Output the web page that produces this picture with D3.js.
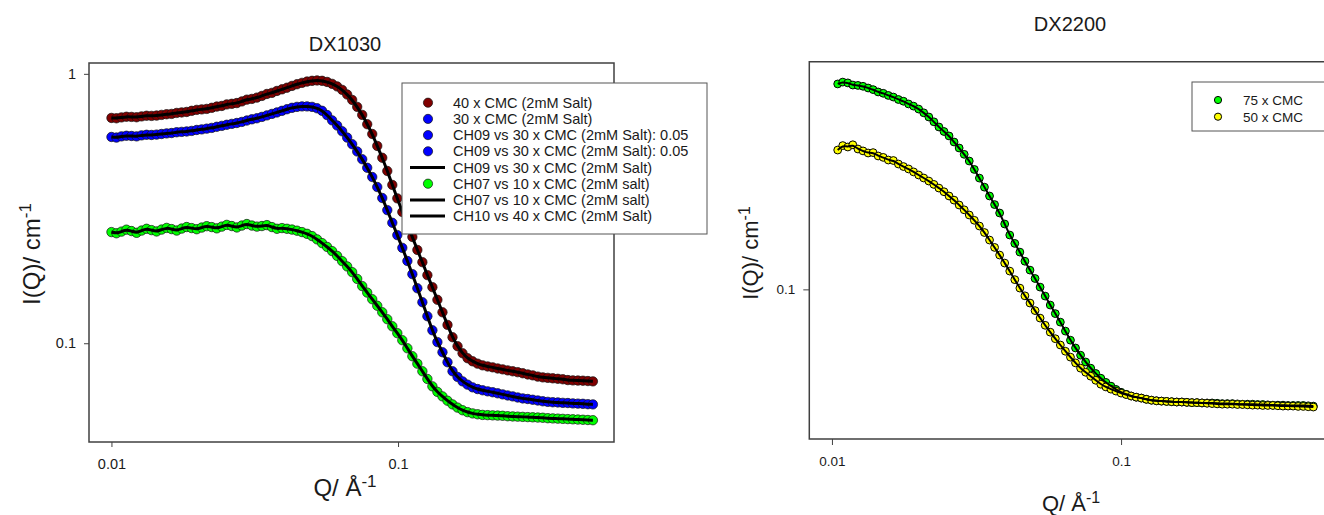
<!DOCTYPE html>
<html>
<head>
<meta charset="utf-8">
<script src="https://cdn.jsdelivr.net/npm/d3@7"></script>
<style>
  body { margin: 0; background: #fff; }
  svg { display: block; font-family: Arial, "Liberation Sans", sans-serif; }
</style>
</head>
<body>
<svg id="chart" width="1324" height="515"></svg>
<script>
// DX1030 panel: Q grid and intensities
const qLeft = [0.01000, 0.01041, 0.01084, 0.01128, 0.01175, 0.01224, 0.01274, 0.01326, 0.01380, 0.01437,
  0.01496, 0.01558, 0.01622, 0.01689, 0.01758, 0.01830, 0.01905, 0.01984, 0.02065, 0.02150,
  0.02239, 0.02331, 0.02427, 0.02526, 0.02630, 0.02738, 0.02851, 0.02968, 0.03090, 0.03217,
  0.03350, 0.03487, 0.03631, 0.03780, 0.03936, 0.04097, 0.04266, 0.04441, 0.04624, 0.04814,
  0.05012, 0.05218, 0.05433, 0.05656, 0.05888, 0.06131, 0.06383, 0.06645, 0.06918, 0.07203,
  0.07499, 0.07807, 0.08128, 0.08463, 0.08810, 0.09173, 0.09550, 0.09943, 0.1035, 0.1078,
  0.1122, 0.1168, 0.1216, 0.1266, 0.1318, 0.1372, 0.1429, 0.1488, 0.1549, 0.1613,
  0.1679, 0.1748, 0.1820, 0.1895, 0.1972, 0.2054, 0.2138, 0.2226, 0.2317, 0.2413,
  0.2512, 0.2615, 0.2723, 0.2835, 0.2951, 0.3073, 0.3199, 0.3331, 0.3467, 0.3610,
  0.3758, 0.3913, 0.4074, 0.4242, 0.4416, 0.4597, 0.4786];

const i40cmc = [0.686, 0.684, 0.689, 0.693, 0.692, 0.690, 0.695, 0.699, 0.698, 0.700,
  0.704, 0.708, 0.710, 0.716, 0.719, 0.722, 0.729, 0.735, 0.738, 0.741,
  0.748, 0.756, 0.760, 0.770, 0.774, 0.779, 0.790, 0.802, 0.807, 0.816,
  0.828, 0.842, 0.850, 0.864, 0.876, 0.888, 0.902, 0.915, 0.926, 0.936,
  0.942, 0.945, 0.942, 0.933, 0.918, 0.898, 0.872, 0.838, 0.800, 0.754,
  0.704, 0.650, 0.598, 0.540, 0.488, 0.436, 0.387, 0.345, 0.307, 0.275,
  0.248, 0.222, 0.200, 0.179, 0.1615, 0.145, 0.1303, 0.117, 0.1053, 0.0975,
  0.0918, 0.0880, 0.0857, 0.0840, 0.0828, 0.0820, 0.0814, 0.0806, 0.0800, 0.0793,
  0.0787, 0.0781, 0.0774, 0.0766, 0.0760, 0.0752, 0.0747, 0.0744, 0.0741, 0.0738,
  0.0735, 0.0730, 0.0728, 0.0727, 0.0726, 0.0724, 0.0722];

const i30cmc = [0.583, 0.580, 0.586, 0.589, 0.588, 0.586, 0.591, 0.594, 0.593, 0.595,
  0.598, 0.601, 0.603, 0.607, 0.609, 0.611, 0.614, 0.619, 0.622, 0.626,
  0.630, 0.636, 0.641, 0.647, 0.652, 0.657, 0.663, 0.671, 0.678, 0.684,
  0.692, 0.701, 0.710, 0.719, 0.729, 0.739, 0.748, 0.754, 0.757, 0.757,
  0.754, 0.745, 0.729, 0.703, 0.672, 0.643, 0.612, 0.580, 0.548, 0.515,
  0.482, 0.448, 0.414, 0.380, 0.346, 0.312, 0.280, 0.252, 0.226, 0.202,
  0.1805, 0.160, 0.142, 0.126, 0.1117, 0.101, 0.0926, 0.0850, 0.0787, 0.0750,
  0.0722, 0.0702, 0.0686, 0.0676, 0.0669, 0.0663, 0.0658, 0.0652, 0.0646, 0.0640,
  0.0635, 0.0629, 0.0624, 0.0621, 0.0617, 0.0613, 0.0609, 0.0606, 0.0604, 0.0603,
  0.0601, 0.0600, 0.0598, 0.0597, 0.0596, 0.0594, 0.0593];

const i10cmc = [0.2586, 0.2560, 0.2597, 0.2640, 0.2609, 0.2570, 0.2620, 0.2660, 0.2630, 0.2600,
  0.2642, 0.2680, 0.2653, 0.2620, 0.2665, 0.2700, 0.2676, 0.2650, 0.2688, 0.2720,
  0.2699, 0.2670, 0.2710, 0.2750, 0.2723, 0.2690, 0.2734, 0.2770, 0.2734, 0.2710,
  0.2723, 0.2745, 0.2699, 0.2660, 0.2676, 0.2660, 0.2642, 0.2617, 0.2586, 0.2548,
  0.2499, 0.2430, 0.2353, 0.2278, 0.2198, 0.2110, 0.2017, 0.1928, 0.1836, 0.1733,
  0.1630, 0.1542, 0.1457, 0.1378, 0.1303, 0.1228, 0.1156, 0.1090, 0.1026, 0.0958,
  0.0895, 0.0840, 0.0787, 0.0737, 0.0692, 0.0660, 0.0635, 0.0612, 0.0593, 0.0577,
  0.0564, 0.0555, 0.0549, 0.0545, 0.0542, 0.0541, 0.0540, 0.0539, 0.0538, 0.0536,
  0.0535, 0.0534, 0.0533, 0.0532, 0.0531, 0.0530, 0.0529, 0.0527, 0.0526, 0.0525,
  0.0524, 0.0523, 0.0522, 0.0521, 0.0520, 0.0519, 0.0518];

const legendLeft = ["40 x CMC (2mM Salt)", "30 x CMC (2mM Salt)", "CH09 vs 30 x CMC (2mM Salt): 0.05",
  "CH09 vs 30 x CMC (2mM Salt): 0.05", "CH09 vs 30 x CMC (2mM Salt)", "CH07 vs 10 x CMC (2mM salt)",
  "CH07 vs 10 x CMC (2mM salt)", "CH10 vs 40 x CMC (2mM Salt)"];

// DX2200 panel
const qRight = [0.01047, 0.01090, 0.01135, 0.01181, 0.01230, 0.01281, 0.01334, 0.01388, 0.01445, 0.01505,
  0.01567, 0.01631, 0.01698, 0.01768, 0.01841, 0.01916, 0.01995, 0.02077, 0.02163, 0.02252,
  0.02344, 0.02441, 0.02541, 0.02645, 0.02754, 0.02867, 0.02985, 0.03108, 0.03236, 0.03369,
  0.03508, 0.03652, 0.03802, 0.03958, 0.04121, 0.04290, 0.04467, 0.04650, 0.04842, 0.05041,
  0.05248, 0.05464, 0.05689, 0.05923, 0.06166, 0.06420, 0.06683, 0.06958, 0.07244, 0.07542,
  0.07852, 0.08175, 0.08511, 0.08861, 0.09226, 0.09605, 0.1000, 0.1041, 0.1084, 0.1128,
  0.1175, 0.1223, 0.1274, 0.1326, 0.1380, 0.1437, 0.1496, 0.1558, 0.1622, 0.1689,
  0.1758, 0.1830, 0.1905, 0.1984, 0.2065, 0.2150, 0.2239, 0.2331, 0.2427, 0.2526,
  0.2630, 0.2738, 0.2851, 0.2968, 0.3090, 0.3217, 0.3350, 0.3487, 0.3631, 0.3780,
  0.3936, 0.4097, 0.4266, 0.4441, 0.4624];

const i75cmc = [0.5105, 0.5180, 0.5147, 0.5060, 0.5045, 0.5010, 0.4943, 0.4880, 0.4790, 0.4740,
  0.4660, 0.4600, 0.4512, 0.4450, 0.4355, 0.4280, 0.4182, 0.4060, 0.3927, 0.3780,
  0.3628, 0.3500, 0.3378, 0.3220, 0.3070, 0.2920, 0.2769, 0.2590, 0.2418, 0.2250,
  0.2098, 0.1960, 0.1833, 0.1680, 0.1539, 0.1440, 0.1344, 0.1250, 0.1165, 0.1090,
  0.1018, 0.0948, 0.0883, 0.0825, 0.0771, 0.0718, 0.0668, 0.0628, 0.0593, 0.0562,
  0.0535, 0.0513, 0.0494, 0.0478, 0.0464, 0.0452, 0.0442, 0.0435, 0.0429, 0.0425,
  0.0422, 0.0418, 0.0415, 0.0413, 0.0412, 0.0411, 0.0410, 0.0409, 0.0409, 0.0408,
  0.0407, 0.0407, 0.0406, 0.0406, 0.0406, 0.0405, 0.0404, 0.0404, 0.0404, 0.0403,
  0.0402, 0.0402, 0.0402, 0.0401, 0.0401, 0.0400, 0.0399, 0.0399, 0.0399, 0.0398,
  0.0398, 0.0398, 0.0398, 0.0397, 0.0396];

const i50cmc = [0.3021, 0.3130, 0.3095, 0.3150, 0.3046, 0.3000, 0.2951, 0.2960, 0.2882, 0.2850,
  0.2791, 0.2780, 0.2704, 0.2650, 0.2600, 0.2540, 0.2478, 0.2420, 0.2362, 0.2300,
  0.2234, 0.2170, 0.2098, 0.2030, 0.1953, 0.1880, 0.1804, 0.1730, 0.1653, 0.1570,
  0.1479, 0.1395, 0.1313, 0.1232, 0.1156, 0.1080, 0.1010, 0.0950, 0.0897, 0.0845,
  0.0796, 0.0752, 0.0712, 0.0676, 0.0643, 0.0612, 0.0584, 0.0558, 0.0535, 0.0518,
  0.0502, 0.0486, 0.0471, 0.0461, 0.0453, 0.0446, 0.0439, 0.0434, 0.0429, 0.0425,
  0.0422, 0.0418, 0.0415, 0.0413, 0.0412, 0.0411, 0.0410, 0.0409, 0.0409, 0.0408,
  0.0407, 0.0407, 0.0406, 0.0405, 0.0404, 0.0403, 0.0402, 0.0402, 0.0402, 0.0401,
  0.0401, 0.0400, 0.0399, 0.0399, 0.0398, 0.0398, 0.0398, 0.0397, 0.0396, 0.0396,
  0.0396, 0.0395, 0.0395, 0.0394, 0.0393];

const legendRight = ["75 x CMC", "50 x CMC"];

const svg = d3.select("#chart");
const ink = "#1a1a1a";
const frame = "#404040";

function zip(q, v) { return q.map((d, i) => [d, v[i]]); }

// ---------- left panel ----------
const xL = d3.scaleLog().domain([0.00835, 0.567]).range([89, 614]);
const yL = d3.scaleLog().domain([0.043, 1.097]).range([442, 63]);

const gL = svg.append("g");

gL.append("g")
  .attr("transform", "translate(0,442)")
  .call(d3.axisBottom(xL).tickValues([0.01, 0.1]).tickFormat(d => d).tickSize(5).tickPadding(12))
  .call(g => g.select(".domain").remove());

gL.append("g")
  .attr("transform", "translate(89,0)")
  .call(d3.axisLeft(yL).tickValues([0.1, 1]).tickFormat(d => d).tickSize(5).tickPadding(8))
  .call(g => g.select(".domain").remove());

gL.selectAll(".tick line").attr("stroke", frame);
gL.selectAll(".tick text").attr("font-size", 14.5).attr("fill", ink).attr("font-family", null);

gL.append("rect").attr("x", 89).attr("y", 63).attr("width", 525).attr("height", 379)
  .attr("fill", "none").attr("stroke", frame).attr("stroke-width", 1.5);

const lineL = d3.line().x(d => xL(d[0])).y(d => yL(d[1])).curve(d3.curveBasis);

const seriesL = [
  { v: i40cmc, color: "#800000" },
  { v: i30cmc, color: "#0000ff" },
  { v: i10cmc, color: "#00ff00" }
];

seriesL.forEach(s => {
  gL.append("g").selectAll("circle")
    .data(zip(qLeft, s.v))
    .enter().append("circle")
    .attr("cx", d => xL(d[0]))
    .attr("cy", d => yL(d[1]))
    .attr("r", 4.7)
    .attr("fill", s.color)
    .attr("stroke", "#111")
    .attr("stroke-width", 0.7);
});

seriesL.forEach(s => {
  gL.append("path")
    .datum(zip(qLeft, s.v))
    .attr("d", lineL)
    .attr("fill", "none")
    .attr("stroke", "#000")
    .attr("stroke-width", 3);
});

// legend
const legL = gL.append("g");
legL.append("rect").attr("x", 402).attr("y", 83).attr("width", 305).attr("height", 151)
  .attr("fill", "#fff").attr("stroke", "#555").attr("stroke-width", 1);

const legColors = ["#800000", "#0000ff", "#0000ff", "#0000ff", null, "#00ff00", null, null];
legendLeft.forEach((label, i) => {
  const yy = 102.7 + i * 16.2;
  if (legColors[i]) {
    legL.append("circle").attr("cx", 428).attr("cy", yy).attr("r", 4.6)
      .attr("fill", legColors[i]).attr("stroke", "#111").attr("stroke-width", 0.7);
  } else {
    legL.append("line").attr("x1", 410).attr("x2", 445).attr("y1", yy).attr("y2", yy)
      .attr("stroke", "#000").attr("stroke-width", 3);
  }
  legL.append("text").attr("x", 453).attr("y", yy + 5)
    .attr("font-size", 14.5).attr("fill", ink).text(label);
});

// titles / labels
svg.append("text").attr("x", 345).attr("y", 51).attr("text-anchor", "middle")
  .attr("font-size", 20).attr("fill", ink).text("DX1030");

const xlabL = svg.append("text").attr("x", 345).attr("y", 496).attr("text-anchor", "middle")
  .attr("font-size", 24).attr("fill", ink);
xlabL.append("tspan").text("Q/ Å");
xlabL.append("tspan").attr("dy", -9).attr("font-size", 17).text("-1");

const ylabL = svg.append("text").attr("transform", "translate(40,254) rotate(-90)")
  .attr("text-anchor", "middle").attr("font-size", 24).attr("fill", ink);
ylabL.append("tspan").text("I(Q)/ cm");
ylabL.append("tspan").attr("dy", -9).attr("font-size", 17).text("-1");

// ---------- right panel ----------
const xR = d3.scaleLog().domain([0.00835, 0.528]).range([809.3, 1330]);
const yR = d3.scaleLog().domain([0.0305, 0.609]).range([439, 61.7]);

const gR = svg.append("g");

gR.append("g")
  .attr("transform", "translate(0,439)")
  .call(d3.axisBottom(xR).tickValues([0.01, 0.1]).tickFormat(d => d).tickSize(6).tickPadding(11))
  .call(g => g.select(".domain").remove());

gR.append("g")
  .attr("transform", "translate(809.3,0)")
  .call(d3.axisLeft(yR).tickValues([0.1]).tickFormat(d => d).tickSize(6).tickPadding(8))
  .call(g => g.select(".domain").remove());

gR.selectAll(".tick line").attr("stroke", frame);
gR.selectAll(".tick text").attr("font-size", 13.5).attr("fill", ink).attr("font-family", null);

gR.append("path")
  .attr("d", "M1330,61.7H809.3V439H1330")
  .attr("fill", "none").attr("stroke", frame).attr("stroke-width", 1.5);

const lineR = d3.line().x(d => xR(d[0])).y(d => yR(d[1])).curve(d3.curveBasis);

const seriesR = [
  { v: i75cmc, color: "#00ff00" },
  { v: i50cmc, color: "#ffff00" }
];

seriesR.forEach(s => {
  gR.append("g").selectAll("circle")
    .data(zip(qRight, s.v))
    .enter().append("circle")
    .attr("cx", d => xR(d[0]))
    .attr("cy", d => yR(d[1]))
    .attr("r", 3.9)
    .attr("fill", s.color)
    .attr("stroke", "#000")
    .attr("stroke-width", 1);
});

// fit lines on top of the symbols
seriesR.forEach(s => {
  gR.append("path")
    .datum(zip(qRight, s.v))
    .attr("d", lineR)
    .attr("fill", "none")
    .attr("stroke", "#000")
    .attr("stroke-width", 2);
});

const legR = gR.append("g");
legR.append("rect").attr("x", 1192).attr("y", 82).attr("width", 150).attr("height", 49)
  .attr("fill", "#fff").attr("stroke", "#555").attr("stroke-width", 1);
const legColorsR = ["#00ff00", "#ffff00"];
legendRight.forEach((label, i) => {
  const yy = 100 + i * 16.7;
  legR.append("circle").attr("cx", 1218).attr("cy", yy).attr("r", 3.6)
    .attr("fill", legColorsR[i]).attr("stroke", "#000").attr("stroke-width", 1);
  legR.append("text").attr("x", 1243).attr("y", yy + 5)
    .attr("font-size", 13.5).attr("fill", ink).text(label);
});

svg.append("text").attr("x", 1070).attr("y", 31.3).attr("text-anchor", "middle")
  .attr("font-size", 20).attr("fill", ink).text("DX2200");

const xlabR = svg.append("text").attr("x", 1071).attr("y", 511).attr("text-anchor", "middle")
  .attr("font-size", 22).attr("fill", ink);
xlabR.append("tspan").text("Q/ Å");
xlabR.append("tspan").attr("dy", -8).attr("font-size", 16).text("-1");

const ylabR = svg.append("text").attr("transform", "translate(758,253) rotate(-90)")
  .attr("text-anchor", "middle").attr("font-size", 22).attr("fill", ink);
ylabR.append("tspan").text("I(Q)/ cm");
ylabR.append("tspan").attr("dy", -8).attr("font-size", 16).text("-1");
</script>
</body>
</html>
